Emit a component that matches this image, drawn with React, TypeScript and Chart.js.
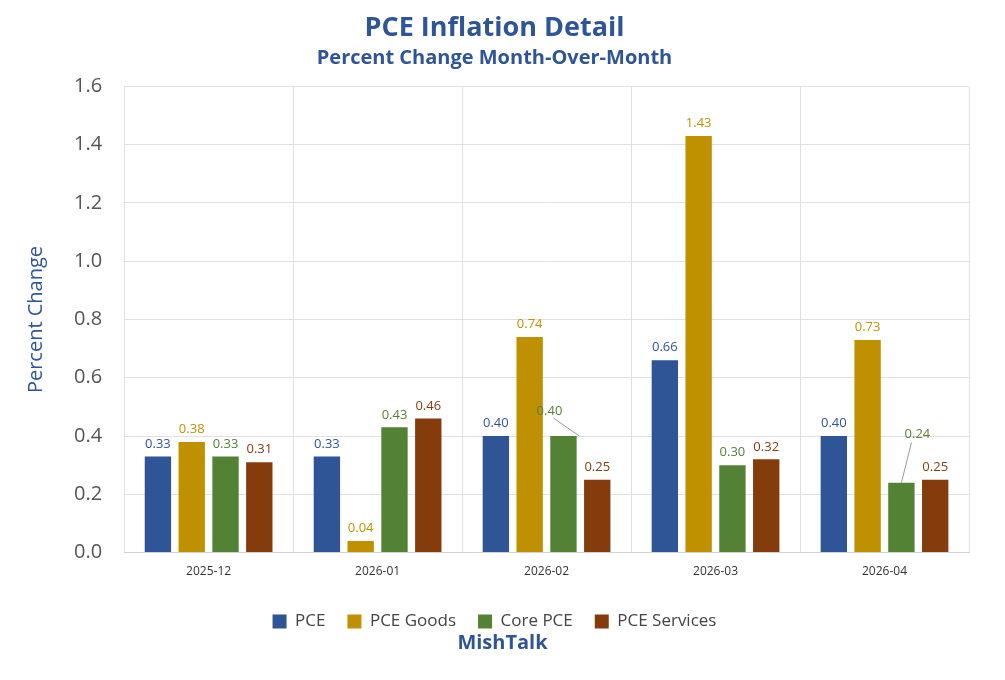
import React, { useEffect, useRef } from "react";
import { Chart, registerables } from "chart.js";
Chart.register(...registerables);

const categories = ["2025-12", "2026-01", "2026-02", "2026-03", "2026-04"];
const pce = [0.33, 0.33, 0.40, 0.66, 0.40];
const pceGoods = [0.38, 0.04, 0.74, 1.43, 0.73];
const corePce = [0.33, 0.43, 0.40, 0.30, 0.24];
const pceServices = [0.31, 0.46, 0.25, 0.32, 0.25];
const seriesNames = ["PCE", "PCE Goods", "Core PCE", "PCE Services"];
const colors = ["#2F5597", "#BF9000", "#548235", "#843C0C"];
const yTicks = [0, 0.2, 0.4, 0.6, 0.8, 1.0, 1.2, 1.4, 1.6];

const labelPlugin = {
  id: "labels",
  afterDatasetsDraw(chart: any) {
    const ctx = chart.ctx;
    ctx.save();
    ctx.font = "13px 'Open Sans', sans-serif";
    ctx.textAlign = "center";
    ctx.textBaseline = "bottom";
    chart.data.datasets.forEach((ds: any, di: number) => {
      const meta = chart.getDatasetMeta(di);
      meta.data.forEach((bar: any, i: number) => {
        const v = ds.data[i];
        ctx.fillStyle = colors[di];
        let x = bar.x, y = bar.y - 6;
        const callout = di === 2 && (i === 2 || i === 4);
        if (callout) {
          const tx = i === 2 ? bar.x - 2 : bar.x + 16;
          const ty = i === 2 ? bar.y - 12 : bar.y - 36;
          ctx.strokeStyle = "#999";
          ctx.lineWidth = 1;
          ctx.beginPath();
          if (i === 2) { ctx.moveTo(bar.x - 10, ty - 6); ctx.lineTo(bar.x + 16, bar.y); }
          else { ctx.moveTo(bar.x, bar.y); ctx.lineTo(tx - 6, ty - 4); }
          ctx.stroke();
          x = i === 2 ? bar.x - 14 : tx;
          y = ty - 6;
        }
        ctx.fillText(v.toFixed(2), x, y);
      });
    });
    ctx.font = "bold 20px 'Open Sans', sans-serif";
    ctx.fillStyle = "#2F5597";
    ctx.textBaseline = "middle";
    ctx.fillText("MishTalk", chart.width / 2, 643);
    ctx.restore();
  },
};

export default function App() {
  const ref = useRef<HTMLCanvasElement>(null);
  useEffect(() => {
    document.body.style.margin = "0";
    const data = [pce, pceGoods, corePce, pceServices];
    const chart = new Chart(ref.current!, {
      type: "bar",
      data: {
        labels: categories,
        datasets: data.map((d, i) => ({
          label: seriesNames[i],
          data: d,
          backgroundColor: colors[i],
          categoryPercentage: 0.8,
          barPercentage: 0.78,
        })),
      },
      plugins: [labelPlugin],
      options: {
        animation: false,
        responsive: false,
        layout: { padding: { left: 20, right: 36, bottom: 40, top: 4 } },
        plugins: {
          title: {
            display: true, text: "PCE Inflation Detail", color: "#2F5597",
            font: { size: 27, weight: "bold", family: "'Open Sans', sans-serif" },
            padding: { top: 8, bottom: 2 },
          },
          subtitle: {
            display: true, text: "Percent Change Month-Over-Month", color: "#2F5597",
            font: { size: 20, weight: "bold", family: "'Open Sans', sans-serif" },
            padding: { bottom: 16 },
          },
          legend: {
            position: "bottom",
            labels: {
              boxWidth: 14, boxHeight: 14, padding: 22, color: "#444",
              font: { size: 17, family: "'Open Sans', sans-serif" },
            },
          },
          tooltip: { enabled: false },
        },
        scales: {
          x: {
            grid: { offset: true, color: "#e0e0e0", drawTicks: false },
            border: { color: "#d0d0d0" },
            ticks: { color: "#333", padding: 12, font: { size: 12, family: "'Open Sans', sans-serif" } },
          },
          y: {
            min: 0, max: 1.6,
            afterBuildTicks: (ax: any) => { ax.ticks = yTicks.map((v) => ({ value: v })); },
            grid: { color: "#e0e0e0", drawTicks: false },
            border: { display: false },
            title: {
              display: true, text: "Percent Change", color: "#2F5597",
              font: { size: 20, family: "'Open Sans', sans-serif" },
            },
            ticks: {
              color: "#555", padding: 22,
              font: { size: 20, family: "'Open Sans', sans-serif" },
              callback: (v: any) => Number(v).toFixed(1),
            },
          },
        },
      },
    });
    return () => chart.destroy();
  }, []);
  return <canvas ref={ref} width={1005} height={680} />;
}
